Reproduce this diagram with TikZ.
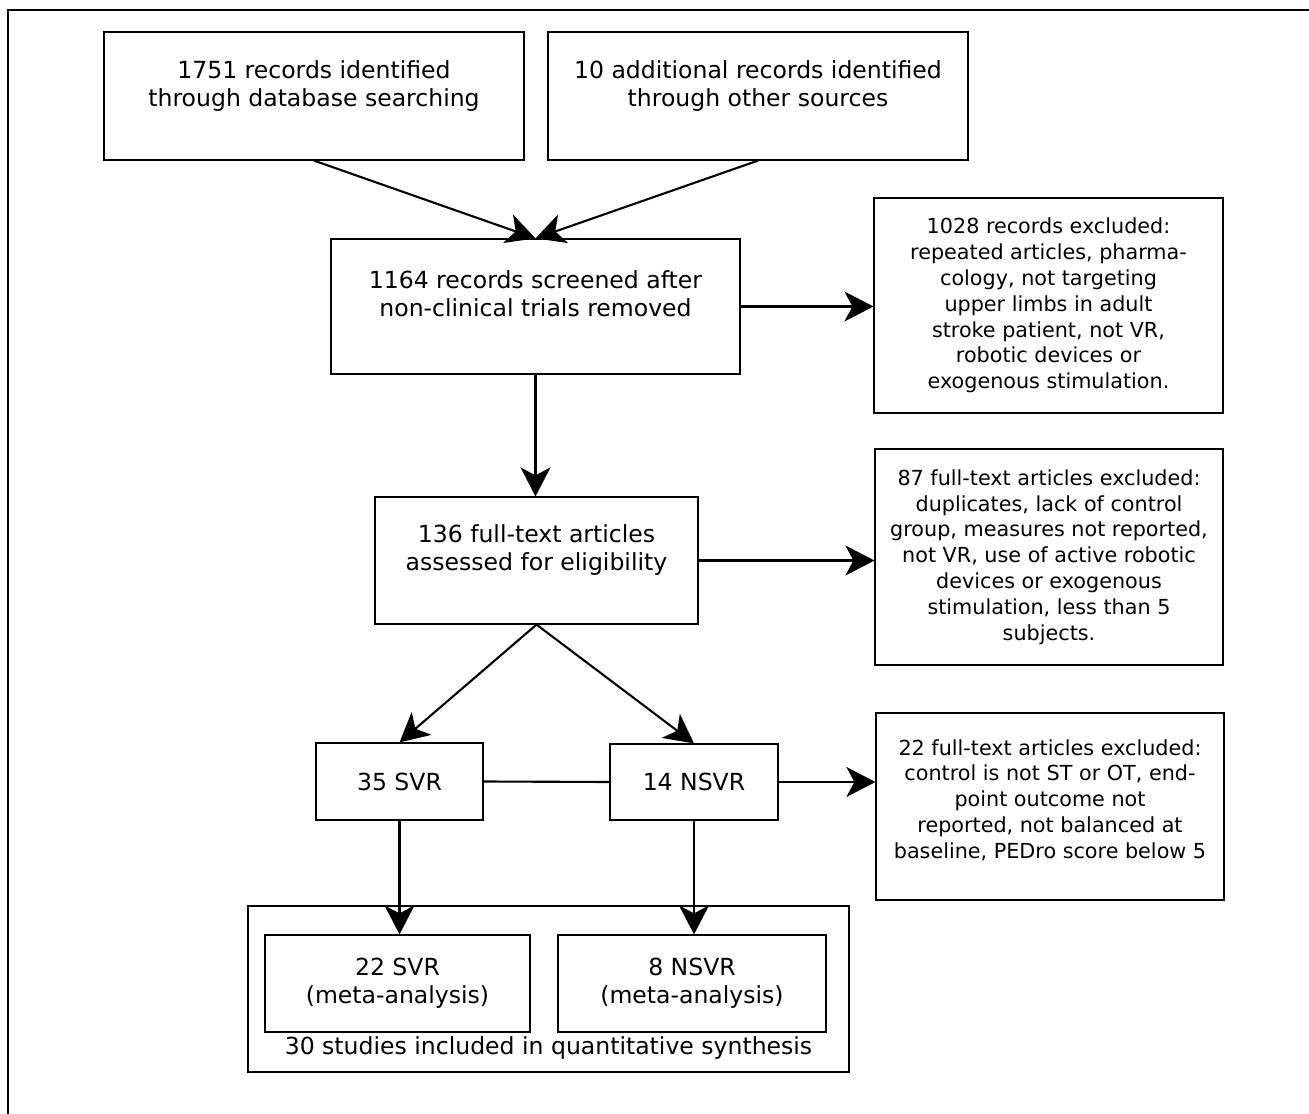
\documentclass[tikz,border=0pt]{standalone}
\usepackage{fontspec}
\setmainfont{DejaVu Sans}
\usepackage{tikz}
\usetikzlibrary{arrows.meta, calc, positioning}
\newcommand{\flowfont}{\fontsize{13.4pt}{15.9pt}\selectfont}
\newcommand{\notefont}{\fontsize{11.8pt}{14.7pt}\selectfont}
\tikzset{
  flowbox/.style={draw, line width=0.7pt, align=center, inner sep=0pt, font=\flowfont},
  notebox/.style={draw, line width=0.7pt, align=center, inner sep=0pt, font=\notefont},
  flowarrow/.style={line width=1.2pt, -{Stealth[length=0.58cm, width=0.6cm, inset=0.16cm]}},
  flowline/.style={line width=1.2pt},
}

\begin{document}
\begin{tikzpicture}[x=0.02cm, y=-0.02cm]
  \useasboundingbox (0,0) rectangle (1309,1114);
  % outer frame, cut off by the page edge
  \draw[line width=1.2pt] (8,1114) |- (1309,10);

  % identification
  \node[flowbox, minimum width=8.4cm, minimum height=2.56cm] (dbrec) at (314,96)
    {1751 records identified\\through database searching\\[-6pt]\strut};
  \node[flowbox, minimum width=8.4cm, minimum height=2.56cm] (otherrec) at (758,96)
    {10 additional records identified\\through other sources\\[-6pt]\strut};

  % screening
  \node[flowbox, minimum width=8.18cm, minimum height=2.7cm] (screened) at (535.5,306.5)
    {1164 records screened after\\non-clinical trials removed\\[-6pt]\strut};
  \node[notebox, minimum width=6.98cm, minimum height=4.3cm] (excl1) at (1048.5,305.5)
    {1028 records excluded:\\repeated articles, pharma-\\cology, not targeting\\upper limbs in adult\\stroke patient, not VR,\\robotic devices or\\exogenous stimulation.};

  % eligibility
  \node[flowbox, minimum width=6.46cm, minimum height=2.54cm] (fulltext) at (536.5,560.5)
    {136 full-text articles\\assessed for eligibility\\[-6pt]\strut};
  \node[notebox, minimum width=6.96cm, minimum height=4.32cm] (excl2) at (1049,557)
    {87 full-text articles excluded:\\duplicates, lack of control\\group, measures not reported,\\not VR, use of active robotic\\devices or exogenous\\stimulation, less than 5\\subjects.};

  % SVR / NSVR split
  \node[flowbox, minimum width=3.34cm, minimum height=1.54cm] (svr) at (399.5,781.5) {35 SVR};
  \node[flowbox, minimum width=3.36cm, minimum height=1.52cm] (nsvr) at (694,782) {14 NSVR};
  \node[notebox, minimum width=6.96cm, minimum height=3.74cm] (excl3) at (1050,806.5)
    {22 full-text articles excluded:\\control is not ST or OT, end-\\point outcome not\\reported, not balanced at\\baseline, PEDro score below 5\\[-6pt]\mbox{}};

  % included
  \node[draw, line width=0.7pt, inner sep=0pt, minimum width=12.02cm, minimum height=3.32cm] (incl) at (548.5,989) {};
  \node[flowbox, minimum width=5.3cm, minimum height=1.94cm] (svrmeta) at (397.5,983.5)
    {22 SVR\\(meta-analysis)};
  \node[flowbox, minimum width=5.36cm, minimum height=1.94cm] (nsvrmeta) at (692,983.5)
    {8 NSVR\\(meta-analysis)};
  \node[font=\flowfont, inner sep=0pt] (synth) at (548.5,1048) {30 studies included in quantitative synthesis};

  % connectors
  \draw[flowarrow] (dbrec.south) -- (screened.north);
  \draw[flowarrow] (otherrec.south) -- (screened.north);
  \draw[flowarrow] (screened.east) -- (screened.east -| excl1.west);
  \draw[flowarrow] (screened.south) -- (screened.south |- fulltext.north);
  \draw[flowarrow] (fulltext.east) -- (fulltext.east -| excl2.west);
  \draw[flowarrow] (fulltext.south) -- (svr.north);
  \draw[flowarrow] (fulltext.south) -- (nsvr.north);
  \draw[flowline] (svr.east) -- (nsvr.west);
  \draw[flowarrow] (nsvr.east) -- (nsvr.east -| excl3.west);
  \draw[flowarrow] (svr.south) -- (svr.south |- svrmeta.north);
  \draw[flowarrow] (nsvr.south) -- (nsvr.south |- nsvrmeta.north);
\end{tikzpicture}
\end{document}
